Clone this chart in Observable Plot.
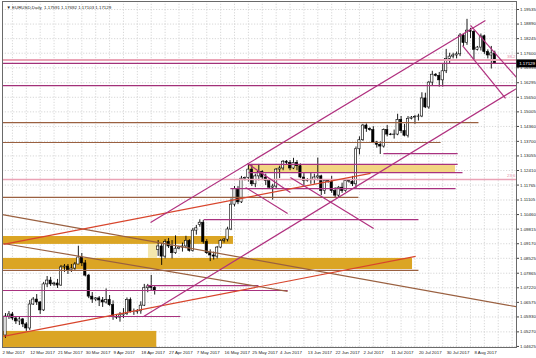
<!DOCTYPE html>
<html><head><meta charset="utf-8">
<script src="https://cdn.jsdelivr.net/npm/d3@7"></script>
<script src="https://cdn.jsdelivr.net/npm/@observablehq/plot@0.6"></script>
<style>body{margin:0;background:#fff;} #chart{width:536px;height:358px;}</style>
</head><body><div id="chart"></div>
<script>
// EURUSD Daily candles (bar index 0 = 2 Mar 2017)
const open  = [1.0511,1.0595,1.0604,1.0586,1.0573,1.0582,1.0560,1.0542,1.0648,1.0670,1.0657,1.0622,1.0737,1.0754,1.0737,1.0741,1.0732,1.0812,1.0816,1.0799,1.0807,1.0825,1.0856,1.0830,1.0776,1.0683,1.0670,1.0675,1.0666,1.0657,1.0668,1.0645,1.0592,1.0590,1.0600,1.0605,1.0668,1.0615,1.0615,1.0618,1.0643,1.0720,1.0728,1.0722,1.0890,1.0905,1.0860,1.0925,1.0905,1.0875,1.0895,1.0900,1.0905,1.0930,1.0885,1.0975,1.1000,1.1010,1.0925,1.0875,1.0865,1.0860,1.0900,1.0930,1.0935,1.0980,1.1090,1.1160,1.1100,1.1205,1.1208,1.1245,1.1180,1.1215,1.1235,1.1210,1.1195,1.1165,1.1170,1.1245,1.1250,1.1280,1.1275,1.1250,1.1275,1.1260,1.1210,1.1195,1.1198,1.1200,1.1210,1.1215,1.1150,1.1195,1.1190,1.1150,1.1130,1.1165,1.1150,1.1195,1.1192,1.1180,1.1335,1.1375,1.1440,1.1425,1.1420,1.1365,1.1355,1.1347,1.1420,1.1400,1.1398,1.1400,1.1465,1.1415,1.1395,1.1470,1.1475,1.1478,1.1480,1.1560,1.1520,1.1630,1.1665,1.1660,1.1640,1.1680,1.1735,1.1745,1.1750,1.1755,1.1838,1.1805,1.1860,1.1855,1.1775,1.1785,1.1835,1.1765,1.1750,1.17591];
const high  = [1.0608,1.0617,1.0613,1.0595,1.0591,1.0586,1.0568,1.0666,1.0679,1.0692,1.0661,1.0746,1.0772,1.0768,1.0746,1.0759,1.0821,1.0825,1.0825,1.0825,1.0834,1.0906,1.0874,1.0843,1.0781,1.0701,1.0679,1.0683,1.0679,1.0717,1.0688,1.0664,1.0600,1.0613,1.0630,1.0677,1.0677,1.0628,1.0626,1.0660,1.0737,1.0737,1.0777,1.0730,1.0931,1.0918,1.0935,1.0940,1.0931,1.0952,1.0905,1.0920,1.0950,1.0935,1.0985,1.0998,1.1023,1.1020,1.0935,1.0890,1.0880,1.0905,1.0935,1.0940,1.0990,1.1115,1.1170,1.1170,1.1215,1.1212,1.1265,1.1268,1.1225,1.1268,1.1240,1.1225,1.1205,1.1180,1.1250,1.1260,1.1285,1.1285,1.1285,1.1295,1.1285,1.1270,1.1230,1.1205,1.1230,1.1225,1.1296,1.1220,1.1200,1.1200,1.1215,1.1165,1.1170,1.1185,1.1200,1.1200,1.1215,1.1345,1.1390,1.1445,1.1447,1.1430,1.1435,1.1370,1.1368,1.1425,1.1440,1.1405,1.1420,1.1490,1.1480,1.1445,1.1480,1.1480,1.1485,1.1490,1.1585,1.1583,1.1635,1.1680,1.1670,1.1675,1.1710,1.1777,1.1760,1.1760,1.1765,1.1847,1.1845,1.1910,1.1870,1.1860,1.1790,1.1845,1.1840,1.1775,1.1790,1.17692];
const low   = [1.0498,1.0582,1.0577,1.0560,1.0555,1.0546,1.0529,1.0533,1.0644,1.0644,1.0604,1.0617,1.0723,1.0728,1.0728,1.0719,1.0728,1.0790,1.0781,1.0790,1.0799,1.0825,1.0816,1.0770,1.0674,1.0653,1.0661,1.0639,1.0635,1.0650,1.0640,1.0578,1.0582,1.0570,1.0586,1.0600,1.0610,1.0600,1.0605,1.0605,1.0639,1.0700,1.0706,1.0690,1.0861,1.0821,1.0850,1.0896,1.0850,1.0870,1.0890,1.0880,1.0895,1.0880,1.0880,1.0955,1.0990,1.0915,1.0870,1.0838,1.0845,1.0850,1.0895,1.0920,1.0925,1.0975,1.1080,1.1090,1.1095,1.1195,1.1190,1.1170,1.1165,1.1195,1.1200,1.1175,1.1160,1.1110,1.1160,1.1205,1.1240,1.1265,1.1240,1.1245,1.1240,1.1205,1.1175,1.1190,1.1180,1.1180,1.1195,1.1130,1.1135,1.1185,1.1140,1.1120,1.1120,1.1140,1.1145,1.1185,1.1170,1.1160,1.1310,1.1370,1.1410,1.1415,1.1360,1.1340,1.1312,1.1340,1.1390,1.1395,1.1380,1.1395,1.1405,1.1390,1.1385,1.1465,1.1445,1.1460,1.1475,1.1515,1.1512,1.1615,1.1655,1.1610,1.1610,1.1670,1.1715,1.1735,1.1735,1.1745,1.1790,1.1795,1.1825,1.1730,1.1770,1.1770,1.1755,1.1735,1.1690,1.17103];
const close = [1.0595,1.0604,1.0586,1.0573,1.0582,1.0560,1.0542,1.0648,1.0670,1.0657,1.0622,1.0737,1.0754,1.0737,1.0741,1.0732,1.0812,1.0816,1.0799,1.0807,1.0825,1.0856,1.0830,1.0776,1.0683,1.0670,1.0675,1.0666,1.0657,1.0668,1.0645,1.0592,1.0590,1.0600,1.0605,1.0668,1.0615,1.0615,1.0618,1.0643,1.0720,1.0728,1.0722,1.0710,1.0905,1.0860,1.0925,1.0905,1.0875,1.0895,1.0900,1.0905,1.0930,1.0885,1.0975,1.0985,1.1010,1.0925,1.0875,1.0865,1.0860,1.0900,1.0930,1.0935,1.0980,1.1090,1.1160,1.1100,1.1205,1.1208,1.1245,1.1180,1.1215,1.1235,1.1210,1.1195,1.1165,1.1170,1.1245,1.1250,1.1280,1.1275,1.1250,1.1275,1.1260,1.1210,1.1195,1.1198,1.1200,1.1210,1.1215,1.1150,1.1195,1.1190,1.1150,1.1130,1.1165,1.1150,1.1195,1.1192,1.1180,1.1335,1.1375,1.1440,1.1425,1.1420,1.1365,1.1355,1.1347,1.1420,1.1400,1.1398,1.1400,1.1465,1.1415,1.1395,1.1470,1.1475,1.1478,1.1480,1.1560,1.1520,1.1630,1.1665,1.1660,1.1640,1.1680,1.1735,1.1745,1.1750,1.1755,1.1838,1.1805,1.1860,1.1855,1.1775,1.1785,1.1835,1.1765,1.1750,1.1759,1.17129];

// axis labels
const dateLabels = ["2 Mar 2017","12 Mar 2017","21 Mar 2017","30 Mar 2017","9 Apr 2017","18 Apr 2017","27 Apr 2017","7 May 2017","16 May 2017","25 May 2017","4 Jun 2017","13 Jun 2017","22 Jun 2017","2 Jul 2017","11 Jul 2017","20 Jul 2017","30 Jul 2017","8 Aug 2017"];
const labelBars = [0,8,16,24,32,40,48,56,64,72,80,88,96,104,112,120,128,136];
const priceTicks = [1.19535,1.18890,1.18245,1.17600,1.16955,1.16295,1.15650,1.15005,1.14360,1.13700,1.13055,1.12410,1.11765,1.11105,1.10460,1.09815,1.09170,1.08525,1.07865,1.07220,1.06575,1.05930,1.05270,1.04625];

// drawn objects: horizontal levels (full width)
const fullLevels = [1.1730,1.1715,1.1617,1.1201];
const fullLevelColor = ["#eaa3b6","#a23078","#a23078","#eaa3b6"];
const fullLevelWidth = [2.2,1.2,1.2,1.4];
const fibLevels = [1.1730,1.1201];
const fibText = ["38.2","23.6"];

// horizontal segments
const segBar1 = [-0.86,-0.86,108.9,70,70,64.8,-0.86,57.1,-0.86,40.9,-0.86,-0.86];
const segBar2 = [136.3,125.4,130.3,130.3,131.7,129.7,101.7,119,119,72.9,81.3,50.4];
const segPrice = [1.1453,1.1365,1.1316,1.1268,1.1232,1.1161,1.1122,1.1024,1.0799,1.0732,1.0710,1.0595];
const segColor = ["#9a6040","#9a6040","#a8327f","#a8327f","#a8327f","#a8327f","#9a6040","#a8327f","#9a6040","#a8327f","#a8327f","#a8327f"];

// rectangles (zones)
const zoneBar1 = [-0.86,-0.86,-0.86,70,41.2];
const zoneBar2 = [65.7,117.3,43.6,129.7,43.8];
const zoneTop = [1.0949,1.0852,1.0529,1.1263,1.0914];
const zoneBottom = [1.0914,1.0803,1.0458,1.1232,1.0852];
const zoneColor = ["#dba524","#dba524","#dba524","#f2d582","#f4e7ad"];

// trend lines
const tlBar1 = [-0.86,-0.58,-0.58,-0.58,41.8,39.8,134,131.7,69.7,69.2,82.1];
const tlP1   = [1.1046,1.0918,1.0507,1.0914,1.1011,1.0595,1.1883,1.1794,1.1272,1.1166,1.1210];
const tlBar2 = [147.26,81.3,118.2,105.2,138.3,147.3,147.3,144.1,82.1,81.3,106.1];
const tlP2   = [1.0638,1.0706,1.0861,1.1228,1.1905,1.1604,1.1652,1.1560,1.1144,1.1051,1.0984];
const tlColor = ["#9a6040","#9a6040","#d8452c","#d8452c","#b0307f","#b0307f","#b0307f","#b0307f","#b0307f","#b0307f","#b0307f"];

const header = "\u25BC EURUSD,Daily  1.17591 1.17692 1.17103 1.17129";

const bars = open.map((o,i)=>({i,o,h:high[i],l:low[i],c:close[i]}));
const segs = segPrice.map((p,k)=>({x1:segBar1[k],x2:segBar2[k],p,col:segColor[k]}));
const zones = zoneTop.map((t,k)=>({x1:zoneBar1[k],x2:zoneBar2[k],t,b:zoneBottom[k],col:zoneColor[k]}));
const tls = tlP1.map((p,k)=>({x1:tlBar1[k],y1:p,x2:tlBar2[k],y2:tlP2[k],col:tlColor[k]}));
const fulls = fullLevels.map((p,k)=>({p,col:fullLevelColor[k],w:fullLevelWidth[k]}));
const fibs = fibLevels.map((p,k)=>({p,t:fibText[k]}));
const gridBars = d3.range(2,148,4);

const W=536,H=358,mL=2,mR=20,mT=1,mB=11;
const yDom=[1.04578,1.19889], xDom=[-0.86,147.26];
const fs = 4.4;

const chart = Plot.plot({
  width:W,height:H,marginLeft:mL,marginRight:mR,marginTop:mT,marginBottom:mB,
  x:{domain:xDom,axis:null},
  y:{domain:yDom,axis:null},
  color:{type:"identity"},
  style:{fontFamily:"'Liberation Sans', Arial, sans-serif",background:"#fff",overflow:"visible"},
  marks:[
    Plot.ruleX(gridBars,{stroke:"#c6c6c6",strokeWidth:0.7,strokeDasharray:"1.2,1.6"}),
    Plot.ruleY(priceTicks,{stroke:"#c6c6c6",strokeWidth:0.7,strokeDasharray:"1.2,1.6"}),
    Plot.rect(zones,{x1:"x1",x2:"x2",y1:"b",y2:"t",fill:"col",clip:true}),
    Plot.ruleX(bars,{x:"i",y1:"l",y2:"h",stroke:"#000",strokeWidth:0.9}),
    Plot.rect(bars,{x1:d=>d.i-0.33,x2:d=>d.i+0.33,y1:"o",y2:"c",fill:d=>d.c>=d.o?"#fff":"#000",stroke:"#000",strokeWidth:0.6}),
    Plot.ruleY(fulls,{y:"p",stroke:"col",strokeWidth:"w"}),
    Plot.link(segs,{x1:"x1",x2:"x2",y1:"p",y2:"p",stroke:"col",strokeWidth:1.2,clip:true}),
    Plot.link(tls,{x1:"x1",y1:"y1",x2:"x2",y2:"y2",stroke:"col",strokeWidth:1.2,clip:true}),
    Plot.text(fibs,{y:"p",text:"t",frameAnchor:"right",textAnchor:"end",dx:-1,dy:-3.5,fill:"#e58fa8",fontSize:fs}),
    Plot.text([header],{text:d=>d,frameAnchor:"top-left",textAnchor:"start",dx:4,dy:4,fontSize:fs,fill:"#222"}),
    Plot.frame({stroke:"#6a6a6a",strokeWidth:1}),
    Plot.axisY(priceTicks,{anchor:"right",tickSize:2,tickPadding:1.5,fontSize:fs,tickFormat:d=>d.toFixed(5),stroke:"#444",fill:"#222"}),
    Plot.axisX(labelBars,{anchor:"bottom",tickSize:0,tickPadding:3,fontSize:fs,textAnchor:"start",dx:-3,
      tickFormat:d=>dateLabels[labelBars.indexOf(d)],fill:"#222"})
  ]
});
document.getElementById("chart").appendChild(chart);

// current price box on the right axis, placed with Plot's own y scale
const last = bars[bars.length-1];
const sy = chart.scale("y");
const yy = (sy && typeof sy.apply === "function") ? sy.apply(last.c) : d3.scaleLinear(yDom,[H-mB,mT])(last.c);
const svg = d3.select(chart);
const g = svg.append("g");
g.append("rect").attr("x",W-mR+0.5).attr("y",yy-4).attr("width",mR-0.5).attr("height",8).attr("fill","#000");
g.append("text").attr("x",W-1).attr("y",yy).attr("dy","0.35em").attr("text-anchor","end")
  .attr("fill","#fff").attr("font-size",fs).attr("font-family","'Liberation Sans', Arial, sans-serif")
  .text(last.c.toFixed(5));
</script>
</body></html>
